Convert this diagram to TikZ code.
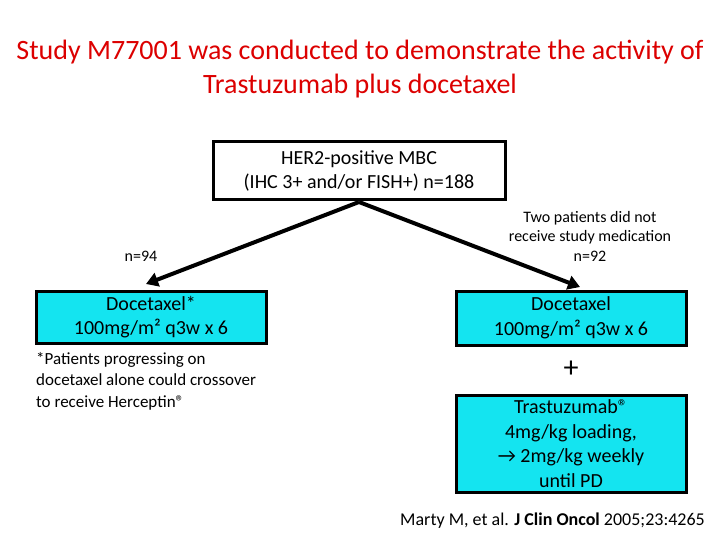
\documentclass[tikz,border=0pt]{standalone}
\usepackage{fontspec}
\setmainfont{Carlito}
\usetikzlibrary{arrows.meta}
\definecolor{boxc}{RGB}{20,228,240}
\definecolor{titc}{RGB}{220,0,0}
\begin{document}
\begin{tikzpicture}[x=1pt,y=-1pt,
  bx/.style={draw=black,line width=3pt,align=center,inner sep=0pt,font=\fontsize{20}{24.5}\selectfont},
  sm/.style={align=center,font=\fontsize{16}{19.5}\selectfont},
  arr/.style={line width=4pt,-{Triangle[length=12pt,width=14pt]}}]
\useasboundingbox (0,0) rectangle (720,540);
\node[text=titc,align=center,font=\fontsize{28}{34}\selectfont] (title) at (360,69) {Study M77001 was conducted to demonstrate the activity of\\Trastuzumab plus docetaxel};
\node[bx,minimum width=292pt,minimum height=58pt] (top) at (359,171) {HER2-positive MBC\\(IHC 3+ and/or FISH+) n=188};
\node[bx,fill=boxc,minimum width=230pt,minimum height=52pt] (dl) at (151,317) {Docetaxel*\\100mg/m² q3w x 6};
\node[bx,fill=boxc,minimum width=230pt,minimum height=54pt] (dr) at (571,318) {Docetaxel\\100mg/m² q3w x 6};
\node[bx,fill=boxc,minimum width=230pt,minimum height=97pt] (tr) at (571,443.5) {Trastuzumab®\\4mg/kg loading,\\→ 2mg/kg weekly\\until PD};
\node[font=\fontsize{30}{30}\selectfont] (plus) at (571,369) {+};
\node[sm] (n94) at (141,256) {n=94};
\node[sm] (two) at (590,236) {Two patients did not\\receive study medication\\n=92};
\node[align=left,anchor=north west,inner sep=0pt,font=\fontsize{17}{21.5}\selectfont] (note) at (36,352) {*Patients progressing on\\docetaxel alone could crossover\\to receive Herceptin®};
\node[anchor=east,inner sep=0pt,font=\fontsize{18}{20}\selectfont] (ref) at (705,521) {Marty M, et al. \textbf{J Clin Oncol} 2005;23:4265};
\coordinate (apex) at (359,202);
\coordinate (lt) at (146,284);
\coordinate (rt) at (580,287);
\draw[arr] (apex) -- (lt);
\draw[arr] (apex) -- (rt);
\end{tikzpicture}
\end{document}
